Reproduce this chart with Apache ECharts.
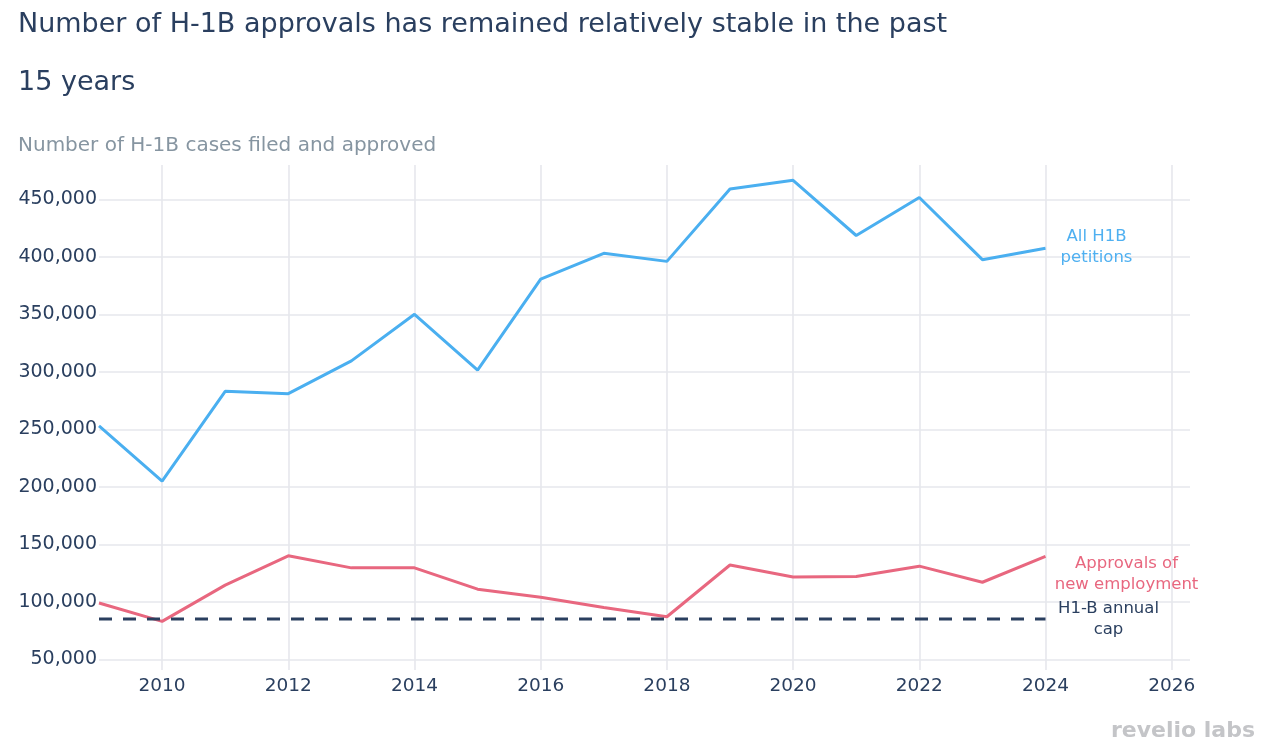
<!DOCTYPE html>
<html>
<head>
<meta charset="utf-8">
<script src="https://cdn.jsdelivr.net/npm/echarts@6/dist/echarts.min.js"></script>
<style>
  html, body { margin: 0; padding: 0; background: #fff; }
  #chart { width: 1264px; height: 756px; }
</style>
</head>
<body>
<div id="chart"></div>
<script>
const years = [2009, 2010, 2011, 2012, 2013, 2014, 2015, 2016, 2017, 2018, 2019, 2020, 2021, 2022, 2023, 2024];
const allPetitions = [253000, 205000, 283000, 281000, 309500, 350000, 301500, 380500, 403000, 396000, 459000, 466500, 418500, 451500, 397500, 407500];
const newEmployment = [99000, 83000, 114500, 140000, 129500, 129500, 111000, 104000, 95000, 87000, 132000, 121500, 122000, 131000, 117000, 139500];
const capYears = [2009, 2024];
const capValue = 85000;

const titleText = 'Number of H-1B approvals has remained relatively stable in the past\n15 years';
const subtitleText = 'Number of H-1B cases filed and approved';
const labelAll = 'All H1B\npetitions';
const labelNew = 'Approvals of\nnew employment';
const labelCap = 'H1-B annual\ncap';

const FONT = '"DejaVu Sans", Verdana, sans-serif';
const chart = echarts.init(document.getElementById('chart'), null, { renderer: 'canvas' });

function endMark(x, y, text, color, offset) {
  return {
    symbol: 'circle', symbolSize: 0, silent: true,
    data: [{ coord: [x, y] }],
    label: {
      show: true, position: 'inside', formatter: text, offset: offset,
      color: color, fontFamily: FONT, fontSize: 16.5, lineHeight: 21, align: 'center', verticalAlign: 'middle'
    }
  };
}

const option = {
  animation: false,
  backgroundColor: '#ffffff',
  title: [
    {
      text: titleText, left: 18, top: -4, padding: 0,
      textStyle: { fontFamily: FONT, fontSize: 27, fontWeight: 'normal', color: '#2a3f5f', lineHeight: 58 }
    },
    {
      text: subtitleText, left: 18, top: 134, padding: 0,
      textStyle: { fontFamily: FONT, fontSize: 20, fontWeight: 'normal', color: '#8695a1', lineHeight: 24 }
    }
  ],
  grid: { left: 99, right: 74, top: 165, bottom: 86, containLabel: false },
  xAxis: {
    type: 'value', min: 2009, max: 2026.29, minInterval: 2, maxInterval: 2,
    axisLine: { show: false }, axisTick: { show: false },
    axisLabel: {
      color: '#2a3f5f', fontFamily: FONT, fontSize: 18.5, margin: 7, showMinLabel: false, showMaxLabel: false,
      formatter: v => String(v)
    },
    splitLine: { show: true, showMinLine: false, showMaxLine: false, lineStyle: { color: '#e6e7ed', width: 1.6 } }
  },
  yAxis: {
    type: 'value', min: 40700, max: 479800, minInterval: 50000, maxInterval: 50000,
    axisLine: { show: false }, axisTick: { show: false },
    axisLabel: {
      color: '#2a3f5f', fontFamily: FONT, fontSize: 19, margin: 2, showMinLabel: false, showMaxLabel: false,
      formatter: v => v.toLocaleString('en-US')
    },
    splitLine: { show: true, showMinLine: false, showMaxLine: false, lineStyle: { color: '#e6e7ed', width: 1.6 } }
  },
  series: [
    {
      type: 'line', name: 'All H1B petitions', symbol: 'none',
      data: years.map((y, i) => [y, allPetitions[i]]),
      lineStyle: { color: '#4aaff0', width: 3 },
      markPoint: endMark(years[years.length - 1], allPetitions[allPetitions.length - 1], labelAll, '#4fb0f1', [51, -1])
    },
    {
      type: 'line', name: 'Approvals of new employment', symbol: 'none',
      data: years.map((y, i) => [y, newEmployment[i]]),
      lineStyle: { color: '#e8677f', width: 3 },
      markPoint: endMark(years[years.length - 1], newEmployment[newEmployment.length - 1], labelNew, '#e8677f', [81, 18])
    },
    {
      type: 'line', name: 'H1-B annual cap', symbol: 'none',
      data: capYears.map(y => [y, capValue]),
      lineStyle: { color: '#2a3f5f', width: 3, type: [13, 11] },
      markPoint: endMark(capYears[1], capValue, labelCap, '#2a3f5f', [63, 0])
    }
  ],
  graphic: [
    {
      type: 'text', right: 9, top: 720,
      style: { text: 'revelio labs', fontFamily: FONT, fontSize: 22, fontWeight: 'bold', fill: '#c4c5c8' }
    }
  ]
};
chart.setOption(option);
</script>
</body>
</html>
